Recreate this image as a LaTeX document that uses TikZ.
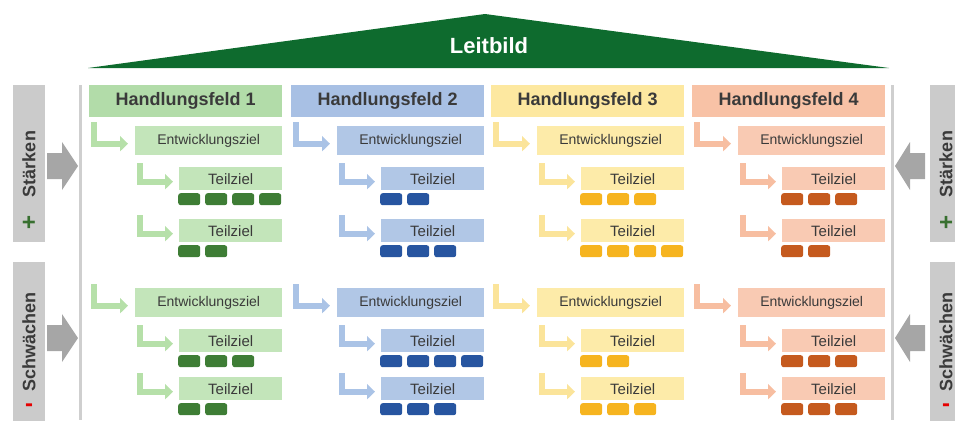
\documentclass[tikz,border=0pt]{standalone}
\usepackage{fontspec}
\setmainfont{Liberation Sans}
\usepackage{xcolor}
\usetikzlibrary{positioning,arrows.meta}

\definecolor{dach}{HTML}{0E6B2E}
\definecolor{grau}{HTML}{CBCBCB}
\definecolor{pgrau}{HTML}{A6A6A6}
\definecolor{rahmen}{HTML}{CFCFCF}
\definecolor{schrift}{HTML}{3A3A3A}
\definecolor{gr-kopf}{HTML}{B2DCA9}
\definecolor{gr-ziel}{HTML}{C3E5BA}
\definecolor{gr-stein}{HTML}{3E7D35}
\definecolor{gr-pfeil}{HTML}{B6E0A9}
\definecolor{bl-kopf}{HTML}{A8C0E4}
\definecolor{bl-ziel}{HTML}{B1C7E6}
\definecolor{bl-stein}{HTML}{2755A0}
\definecolor{bl-pfeil}{HTML}{AAC3E6}
\definecolor{ge-kopf}{HTML}{FDE8A0}
\definecolor{ge-ziel}{HTML}{FDEBA9}
\definecolor{ge-stein}{HTML}{F6B41F}
\definecolor{ge-pfeil}{HTML}{FBE49A}
\definecolor{or-kopf}{HTML}{F8C2A6}
\definecolor{or-ziel}{HTML}{F9CAB3}
\definecolor{or-stein}{HTML}{C55A1E}
\definecolor{or-pfeil}{HTML}{F7BEA1}

\tikzset{
    feld/.style={anchor=north west, minimum width=193pt, minimum height=32pt, inner sep=0pt,
        font=\bfseries\fontsize{18}{20}\selectfont, text=schrift},
    ziel/.style={anchor=north west, minimum width=147pt, minimum height=29pt, inner sep=0pt,
        font=\fontsize{14}{16}\selectfont, text=schrift},
    teil/.style={anchor=north west, minimum width=103pt, minimum height=23pt, inner sep=0pt,
        font=\fontsize{15}{17}\selectfont, text=schrift},
    stein/.style={anchor=north west, minimum width=22pt, minimum height=12pt, inner sep=0pt,
        rounded corners=2.5pt},
    pfeil/.style={line width=6pt, -{Triangle[width=15pt,length=8pt]}},
    seite/.style={anchor=north west, fill=grau, minimum width=32pt, inner sep=0pt},
    seitentext/.style={rotate=90, font=\bfseries\fontsize{18}{20}\selectfont, text=schrift}
}

\begin{document}
\begin{tikzpicture}[x=1pt, y=-1pt]
    \useasboundingbox (0,0) rectangle (955,420);
    \clip (0,0) rectangle (955,420);

    % Dach
    \fill[dach] (88,68) -- (485,14) -- (889,68) -- cycle;
    \node[font=\bfseries\fontsize{22}{24}\selectfont, text=white] (leitbild) at (489,46) {Leitbild};

    % Rahmen
    \draw[rahmen, line width=3pt] (80,85) -- (80,420);
    \draw[rahmen, line width=3pt] (892,85) -- (892,420);

    % Seiten
    \node[seite, minimum height=157pt] (sl1) at (13,85) {};
    \node[seite, minimum height=170pt] (sl2) at (13,262) {};
    \node[seite, minimum height=157pt] (sr1) at (930,85) {};
    \node[seite, minimum height=170pt] (sr2) at (930,262) {};
    \node[seitentext] (tl1) at (29,164) {Stärken};
    \node[seitentext] (tl2) at (29,342) {Schwächen};
    \node[seitentext] (tr1) at (946,164) {Stärken};
    \node[seitentext] (tr2) at (946,342) {Schwächen};
    \node[font=\bfseries\fontsize{24}{24}\selectfont, text=gr-stein!90!black] (pl1) at (29,223) {+};
    \node[font=\bfseries\fontsize{24}{24}\selectfont, text=gr-stein!90!black] (pr1) at (946,223) {+};
    \node[font=\bfseries\fontsize{24}{24}\selectfont, text=red!90!black] (ml1) at (29,408) {-};
    \node[font=\bfseries\fontsize{24}{24}\selectfont, text=red!90!black] (mr1) at (946,408) {-};

    % Blockpfeile
    \foreach \y in {166,338} {
        \fill[pgrau] (47,\y-13) -- (62,\y-13) -- (62,\y-24) -- (78,\y) -- (62,\y+24)
            -- (62,\y+13) -- (47,\y+13) -- cycle;
        \fill[pgrau] (925,\y-13) -- (910,\y-13) -- (910,\y-24) -- (895,\y) -- (910,\y+24)
            -- (910,\y+13) -- (925,\y+13) -- cycle;
    }

    % Handlungsfelder
    \foreach \c/\x/\f/\nA/\nB/\nC/\nD in {1/89/gr/4/2/3/2, 2/291/bl/2/3/4/3,
                                           3/491/ge/3/4/2/3, 4/692/or/3/2/3/3} {
        \node[feld, fill=\f-kopf] (hf\c) at (\x,85) {Handlungsfeld \c};
        \foreach \s/\yE/\yT/\yU/\na/\nb in {a/126/167/219/\nA/\nB, b/288/329/377/\nC/\nD} {
            \node[ziel, fill=\f-ziel] (ez\c\s) at (\x+46,\yE) {Entwicklungsziel};
            \draw[pfeil, \f-pfeil] ([xshift=-41pt,yshift=4pt]ez\c\s.north west)
                |- ([xshift=-7pt,yshift=-3pt]ez\c\s.west);
            \node[teil, fill=\f-ziel] (tz\c\s1) at (\x+90,\yT) {Teilziel};
            \node[teil, fill=\f-ziel] (tz\c\s2) at (\x+90,\yU) {Teilziel};
            \foreach \t in {1,2} {
                \draw[pfeil, \f-pfeil] ([xshift=-39pt,yshift=4pt]tz\c\s\t.north west)
                    |- ([xshift=-6pt,yshift=-3pt]tz\c\s\t.west);
            }
            \foreach \k in {1,...,\na}
                \node[stein, fill=\f-stein] (m\c\s1\k) at (\x+89+27*\k-27,\yT+26) {};
            \foreach \k in {1,...,\nb}
                \node[stein, fill=\f-stein] (m\c\s2\k) at (\x+89+27*\k-27,\yU+26) {};
        }
    }
\end{tikzpicture}
\end{document}
